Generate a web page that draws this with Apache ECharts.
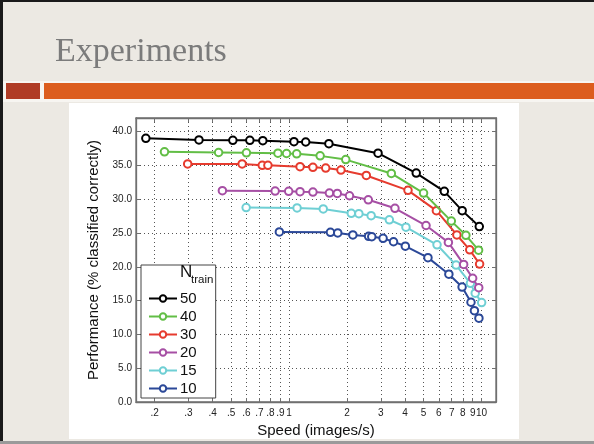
<!DOCTYPE html>
<html><head><meta charset="utf-8">
<script src="https://cdn.jsdelivr.net/npm/echarts@6/dist/echarts.min.js"></script>
<style>html,body{margin:0;padding:0;background:#ECE9E3;}#c{width:594px;height:444px;}</style>
</head><body><div id="c"></div>
<script>
// ---- data (speed in images/s, performance in % classified correctly) ----
const seriesNames = ['50', '40', '30', '20', '15', '10'];
const speed50 = [0.18, 0.34, 0.51, 0.625, 0.73, 1.06, 1.22, 1.61, 2.9, 4.58, 6.41, 7.94, 9.74];
const perf50  = [39.0, 38.75, 38.7, 38.7, 38.65, 38.5, 38.45, 38.2, 36.8, 33.85, 31.15, 28.3, 25.95];
const speed40 = [0.225, 0.43, 0.60, 0.875, 0.97, 1.095, 1.45, 1.97, 3.40, 5.00, 6.97, 8.30, 9.66];
const perf40  = [37.0, 36.9, 36.85, 36.8, 36.75, 36.7, 36.4, 35.85, 33.8, 30.9, 26.75, 24.65, 22.45];
const speed30 = [0.297, 0.57, 0.725, 0.776, 1.14, 1.33, 1.55, 1.86, 2.52, 4.15, 5.83, 7.45, 8.69, 9.78];
const perf30  = [35.2, 35.2, 35.0, 35.0, 34.8, 34.7, 34.6, 34.3, 33.5, 31.3, 28.3, 24.7, 22.5, 20.4];
const speed20 = [0.45, 0.846, 0.995, 1.14, 1.33, 1.62, 1.78, 2.06, 2.58, 3.55, 5.15, 6.73, 8.08, 9.0, 9.68];
const perf20  = [31.25, 31.2, 31.15, 31.1, 31.05, 30.9, 30.85, 30.5, 29.9, 28.65, 26.1, 23.6, 20.35, 18.3, 16.9];
const speed15 = [0.598, 1.10, 1.505, 2.105, 2.305, 2.67, 3.32, 4.05, 5.875, 7.38, 8.76, 9.28, 10.02];
const perf15  = [28.75, 28.7, 28.55, 27.9, 27.85, 27.55, 26.95, 25.85, 23.25, 20.25, 17.55, 16.1, 14.7];
const speed10 = [0.89, 1.64, 1.79, 2.145, 2.59, 2.69, 3.08, 3.49, 4.02, 5.27, 6.77, 7.93, 8.82, 9.19, 9.70];
const perf10  = [25.15, 25.1, 25.0, 24.7, 24.5, 24.45, 24.2, 23.7, 23.05, 21.35, 18.9, 17.0, 14.75, 13.5, 12.4];
const xTickValues = [0.2, 0.3, 0.4, 0.5, 0.6, 0.7, 0.8, 0.9, 1, 2, 3, 4, 5, 6, 7, 8, 9, 10];
const yTickValues = [0, 5, 10, 15, 20, 25, 30, 35, 40];

const colors = ['#000000', '#62BE46', '#E63B2E', '#A64FA4', '#6FCFD4', '#2B4898'];
const speeds = [speed50, speed40, speed30, speed20, speed15, speed10];
const perfs = [perf50, perf40, perf30, perf20, perf15, perf10];

const L = Math.log10;
const xMin = L(0.16), xMax = L(11.9);
const xTicksLog = xTickValues.map(v => L(v));
function fmtX(v) {
  const s = Math.pow(10, v);
  if (s < 0.95) return '.' + Math.round(s * 10);
  return String(Math.round(s));
}
const gridLine = { show: true, lineStyle: { color: '#555', width: 1, type: [1, 3] } };
const axisLineStyle = { show: true, onZero: false, lineStyle: { color: '#707070', width: 1.3 } };

const series = seriesNames.map((n, k) => ({
  name: n,
  type: 'line',
  data: speeds[k].map((s, i) => [L(s), perfs[k][i]]),
  symbol: 'emptyCircle',
  symbolSize: 7.5,
  color: colors[k],
  lineStyle: { width: 2, color: colors[k] },
  itemStyle: { color: colors[k], borderColor: colors[k], borderWidth: 1.7 },
  z: 10 - k
}));

const chart = echarts.init(document.getElementById('c'));
chart.setOption({
  animation: false,
  backgroundColor: '#ECE9E3',
  title: {
    text: 'Experiments', left: 50, top: 30,
    textStyle: { fontFamily: 'Liberation Serif', fontSize: 34, fontWeight: 'normal', color: '#7b7b7b' }
  },
  graphic: [
    { type: 'rect', z: -10, shape: { x: 0, y: 0, width: 594, height: 2 }, style: { fill: '#1a1a1a' } },
    { type: 'rect', z: -10, shape: { x: 0, y: 0, width: 3, height: 444 }, style: { fill: '#1a1a1a' } },
    { type: 'rect', z: -10, shape: { x: 3, y: 81, width: 591, height: 21 }, style: { fill: '#F7F5F1' } },
    { type: 'rect', z: -9, shape: { x: 6, y: 83, width: 34, height: 16 }, style: { fill: '#B03C26' } },
    { type: 'rect', z: -9, shape: { x: 44, y: 83, width: 550, height: 16 }, style: { fill: '#DC5D1E' } },
    { type: 'rect', z: -10, shape: { x: 69, y: 103, width: 450, height: 336 }, style: { fill: '#ffffff' } },
    { type: 'rect', z: -10, shape: { x: 0, y: 441, width: 594, height: 3 }, style: { fill: '#9a9a9a' } },
    { type: 'text', z: 100, left: 180, top: 264, style: { text: 'N', fontFamily: 'Liberation Sans', fontSize: 17, fill: '#111' } },
    { type: 'text', z: 100, left: 191, top: 274, style: { text: 'train', fontFamily: 'Liberation Sans', fontSize: 11.5, fill: '#111' } }
  ],
  legend: {
    data: seriesNames,
    orient: 'vertical',
    left: 141, top: 265,
    padding: [26, 19, 2, 7],
    itemWidth: 28, itemHeight: 8, itemGap: 3,
    backgroundColor: '#ffffff',
    borderColor: '#444', borderWidth: 1,
    selectedMode: false,
    textStyle: { fontFamily: 'Liberation Sans', fontSize: 15, color: '#111', padding: [0, 0, 0, -2] },
    z: 50
  },
  grid: { left: 136, right: 98, top: 118, bottom: 42, show: true, borderColor: '#707070', borderWidth: 1.3, backgroundColor: '#ffffff' },
  xAxis: [{
    type: 'value', min: xMin, max: xMax,
    name: 'Speed (images/s)', nameLocation: 'middle', nameGap: 15,
    nameTextStyle: { fontFamily: 'Liberation Sans', fontSize: 15, color: '#111' },
    axisLine: axisLineStyle,
    axisTick: { show: true, inside: true, length: 4, customValues: xTicksLog, lineStyle: { color: '#707070' } },
    axisLabel: { customValues: xTicksLog, formatter: fmtX, fontFamily: 'Liberation Sans', fontSize: 10, color: '#222', margin: 6 },
    splitLine: gridLine
  }, {
    type: 'value', min: xMin, max: xMax, position: 'top',
    axisLine: axisLineStyle,
    axisTick: { show: true, inside: true, length: 4, customValues: xTicksLog, lineStyle: { color: '#707070' } },
    axisLabel: { show: false }, splitLine: { show: false }
  }],
  yAxis: [{
    type: 'value', min: 0, max: 42,
    name: 'Performance (% classified correctly)', nameLocation: 'middle', nameGap: 26,
    nameTextStyle: { fontFamily: 'Liberation Sans', fontSize: 15, color: '#111' },
    axisLine: axisLineStyle,
    axisTick: { show: true, inside: true, length: 4, customValues: yTickValues, lineStyle: { color: '#707070' } },
    axisLabel: { customValues: yTickValues, formatter: v => v.toFixed(1), fontFamily: 'Liberation Sans', fontSize: 10, color: '#222', margin: 4 },
    splitLine: gridLine
  }, {
    type: 'value', min: 0, max: 42, position: 'right',
    axisLine: axisLineStyle,
    axisTick: { show: true, inside: true, length: 4, customValues: yTickValues, lineStyle: { color: '#707070' } },
    axisLabel: { show: false }, splitLine: { show: false }
  }],
  series: series
});
</script>
</body></html>
